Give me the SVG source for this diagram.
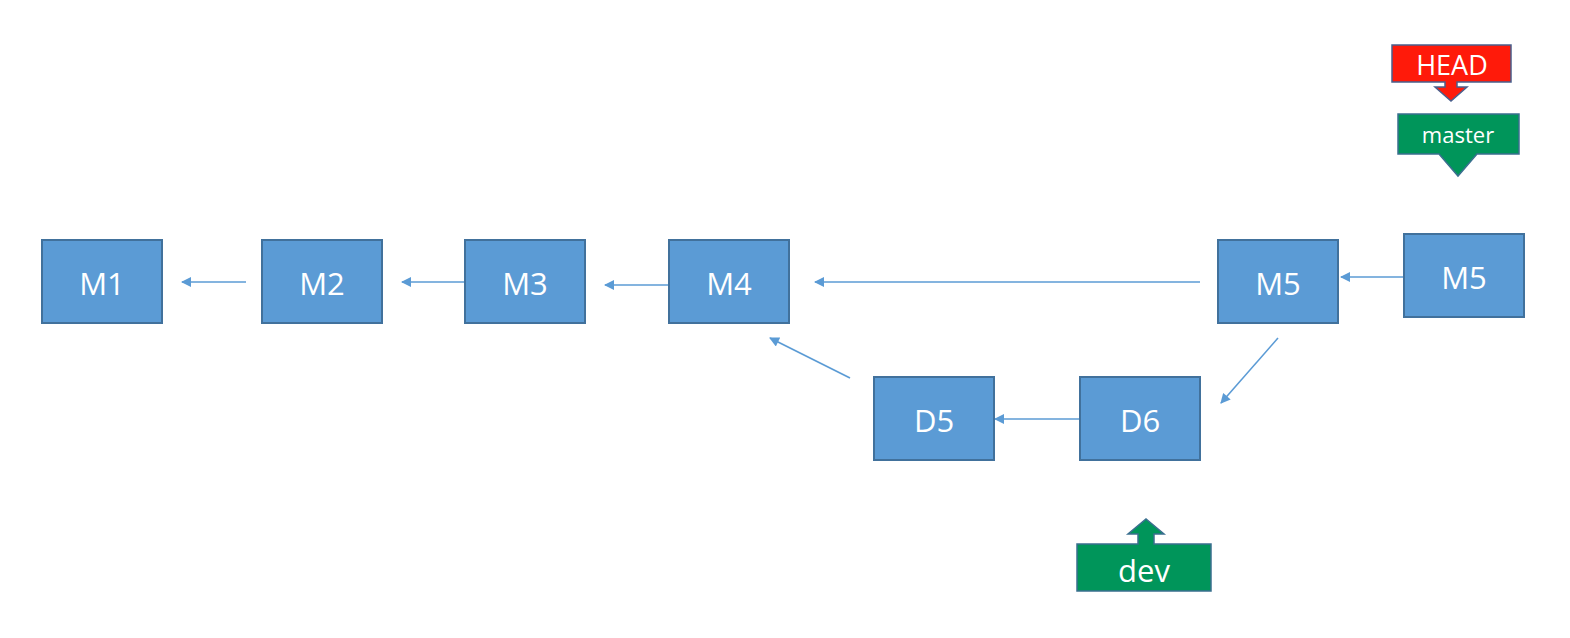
<svg xmlns="http://www.w3.org/2000/svg" width="1570" height="638" viewBox="0 0 1570 638">
<style>
.box{fill:#5b9bd5;stroke:#41719c;stroke-width:2}
.lbl{fill:#fff;font-family:"Open Sans","Liberation Sans",sans-serif;font-size:31px;text-anchor:middle;dominant-baseline:central}
.conn{stroke:#5b9bd5;stroke-width:1.6;fill:none;marker-end:url(#ah)}
.tag{fill:#fff;font-family:"Open Sans","Liberation Sans",sans-serif;text-anchor:middle;dominant-baseline:central}
</style>
<defs>
<marker id="ah" viewBox="0 0 10 10" refX="9" refY="5" markerWidth="11" markerHeight="10" markerUnits="userSpaceOnUse" orient="auto">
<path d="M0,0 L10,5 L0,10 z" fill="#5b9bd5"/>
</marker>
</defs>
<rect width="1570" height="638" fill="#fff"/>
<g id="connectors">
<line class="conn" x1="246" y1="282" x2="182" y2="282"/>
<line class="conn" x1="464" y1="282" x2="402" y2="282"/>
<line class="conn" x1="668" y1="285" x2="605" y2="285"/>
<line class="conn" x1="1200" y1="282" x2="815" y2="282"/>
<line class="conn" x1="1403" y1="277" x2="1341" y2="277"/>
<line class="conn" x1="1278" y1="338" x2="1221" y2="403"/>
<line class="conn" x1="850" y1="378" x2="770" y2="338"/>
<line class="conn" x1="1079" y1="419" x2="995" y2="419"/>
</g>
<g id="M1"><rect class="box" x="42" y="240" width="120" height="83"/><text class="lbl" x="102" y="283">M1</text></g>
<g id="M2"><rect class="box" x="262" y="240" width="120" height="83"/><text class="lbl" x="322" y="283">M2</text></g>
<g id="M3"><rect class="box" x="465" y="240" width="120" height="83"/><text class="lbl" x="525" y="283">M3</text></g>
<g id="M4"><rect class="box" x="669" y="240" width="120" height="83"/><text class="lbl" x="729" y="283">M4</text></g>
<g id="M5a"><rect class="box" x="1218" y="240" width="120" height="83"/><text class="lbl" x="1278" y="283">M5</text></g>
<g id="M5b"><rect class="box" x="1404" y="234" width="120" height="83"/><text class="lbl" x="1464" y="277">M5</text></g>
<g id="D5"><rect class="box" x="874" y="377" width="120" height="83"/><text class="lbl" x="934" y="420">D5</text></g>
<g id="D6"><rect class="box" x="1080" y="377" width="120" height="83"/><text class="lbl" x="1140" y="420">D6</text></g>
<g id="HEAD">
<path d="M1392,45 H1511 V82 H1457 V87 H1467 L1451,101 L1435,87 H1445 V82 H1392 Z" fill="#ff1a0a" stroke="#4a5f8c" stroke-width="1.5"/>
<text class="tag" x="1452" y="64" font-size="27">HEAD</text>
</g>
<g id="master">
<path d="M1398,114 H1519 V154 H1477 L1458,176 L1439,154 H1398 Z" fill="#00955a" stroke="#3a6f8f" stroke-width="1.5"/>
<text class="tag" x="1458" y="134" font-size="22">master</text>
</g>
<g id="dev">
<path d="M1077,544 H1138 V534 H1128 L1146,519 L1164,534 H1154 V544 H1211 V591 H1077 Z" fill="#00955a" stroke="#3a6f8f" stroke-width="1.5"/>
<text class="tag" x="1144" y="570" font-size="31">dev</text>
</g>
</svg>
